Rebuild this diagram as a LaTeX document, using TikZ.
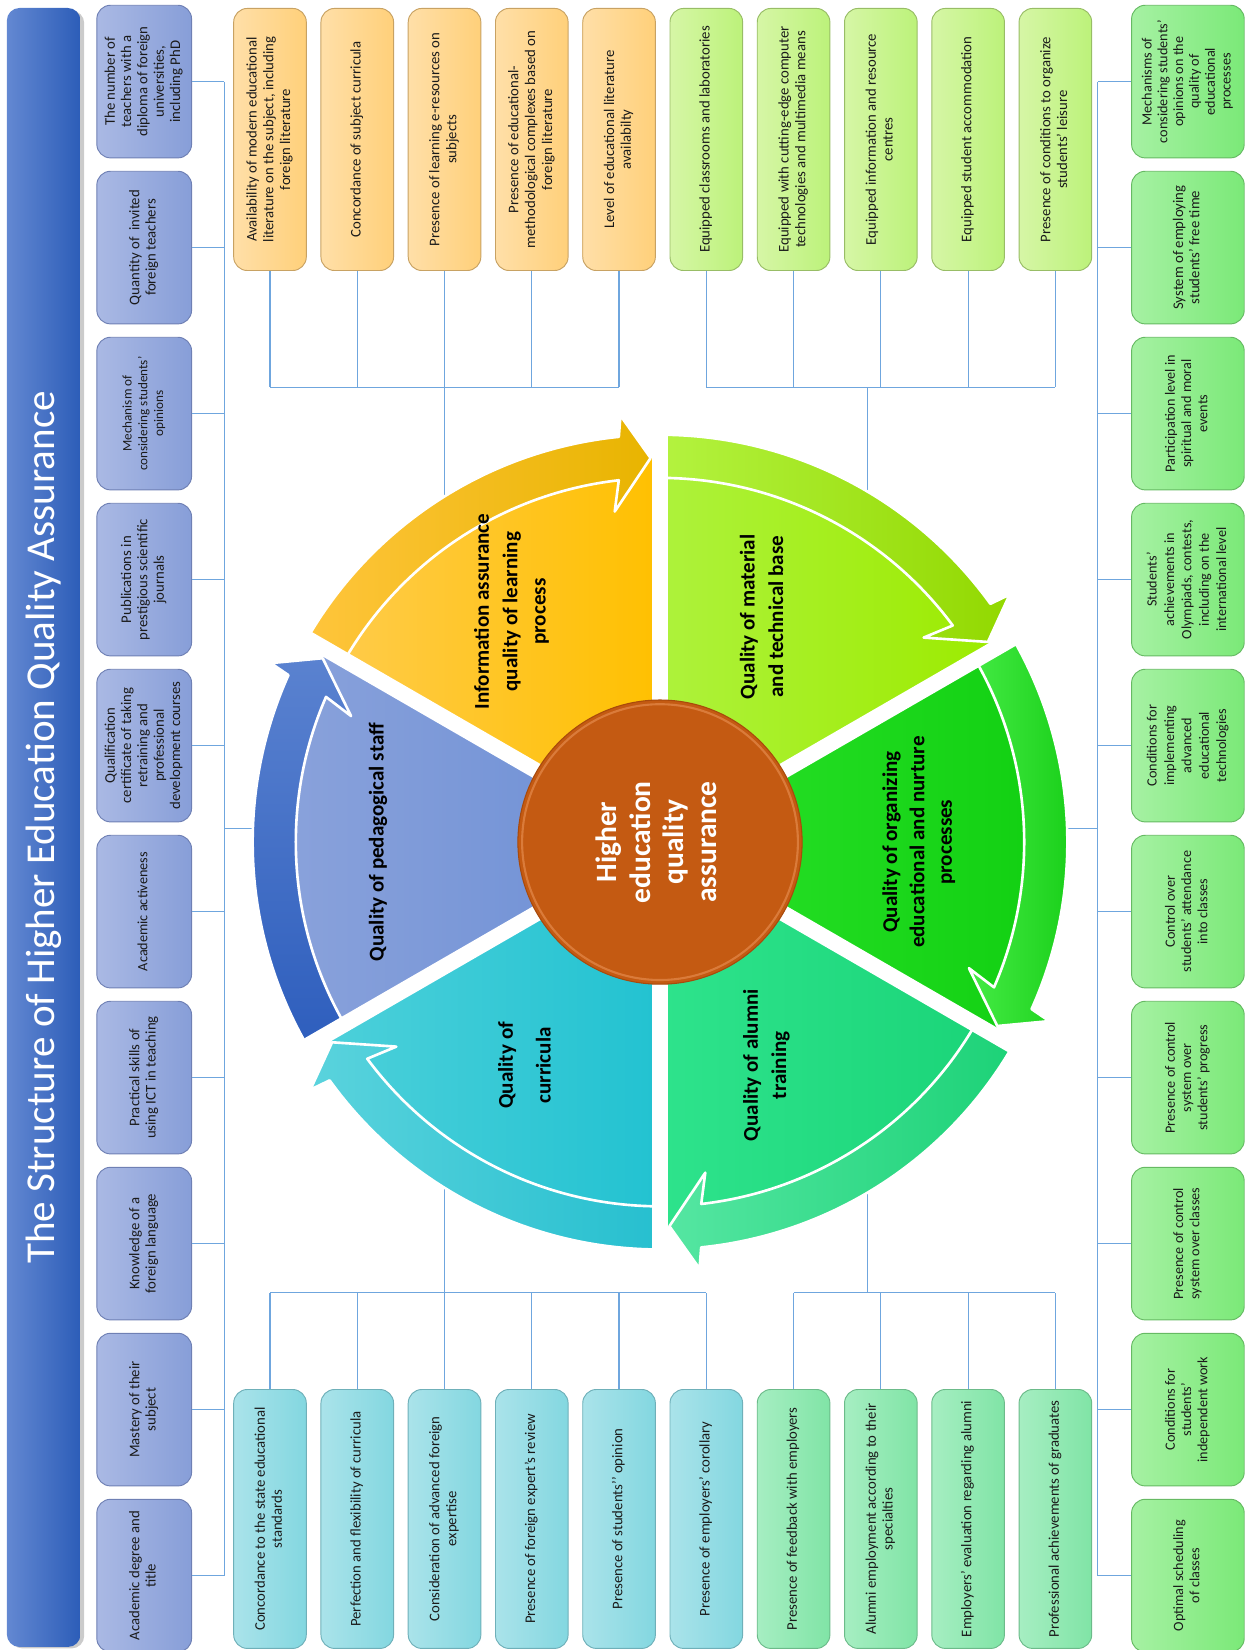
\documentclass[tikz,border=0pt]{standalone}
\usepackage{fontspec}
\setmainfont{Carlito}
\usetikzlibrary{calc}

\definecolor{wirec}{HTML}{6FA6DE}
\definecolor{txt}{HTML}{1A1A1A}
\definecolor{ttL}{HTML}{6388D2}
\definecolor{ttR}{HTML}{2C5DB8}
\definecolor{blL}{HTML}{AAB9E4}
\definecolor{blR}{HTML}{879ED8}
\definecolor{blD}{HTML}{6F80B4}
\definecolor{orL}{HTML}{FFDFA8}
\definecolor{orR}{HTML}{FFD07A}
\definecolor{orD}{HTML}{C8A263}
\definecolor{liL}{HTML}{D6F6A6}
\definecolor{liR}{HTML}{BCF27A}
\definecolor{liD}{HTML}{98BD66}
\definecolor{cyL}{HTML}{AAE3EA}
\definecolor{cyR}{HTML}{83D7E0}
\definecolor{cyD}{HTML}{6FB0B9}
\definecolor{mnL}{HTML}{A6EEC2}
\definecolor{mnR}{HTML}{80E4A6}
\definecolor{mnD}{HTML}{6CBB8A}
\definecolor{grL}{HTML}{A6F1A3}
\definecolor{grR}{HTML}{7BE978}
\definecolor{grD}{HTML}{66BA63}
\definecolor{hub}{HTML}{C45A12}
\definecolor{hubD}{HTML}{A84A0C}
\definecolor{hubL}{HTML}{E48A4C}
% wheel colours
\definecolor{yS1}{HTML}{FFCB48}\definecolor{yS2}{HTML}{FFC000}\definecolor{yA1}{HTML}{FFC53C}\definecolor{yA2}{HTML}{E8B400}
\definecolor{lS1}{HTML}{AEF23C}\definecolor{lS2}{HTML}{9CEB00}\definecolor{lA1}{HTML}{B4F340}\definecolor{lA2}{HTML}{92D800}
\definecolor{gS1}{HTML}{2AE22A}\definecolor{gS2}{HTML}{12D012}\definecolor{gA1}{HTML}{45EB45}\definecolor{gA2}{HTML}{14CC14}
\definecolor{aS1}{HTML}{2EE38C}\definecolor{aS2}{HTML}{1BD579}\definecolor{aA1}{HTML}{55E6A2}\definecolor{aA2}{HTML}{1CD277}
\definecolor{cS1}{HTML}{4CD0DA}\definecolor{cS2}{HTML}{22C2D1}\definecolor{cA1}{HTML}{5AD3DD}\definecolor{cA2}{HTML}{26BFCF}
\definecolor{bS1}{HTML}{8AA2DB}\definecolor{bS2}{HTML}{6B8ED5}\definecolor{bA1}{HTML}{5A82D0}\definecolor{bA2}{HTML}{2E5EBD}

\newcommand\rt[4][]{\rotatebox{90}{\fontsize{#2}{#3}\selectfont#1\begin{tabular}{@{}c@{}}#4\end{tabular}}}

\newcommand\wheelsector[3]{%
  \pgfmathsetmacro\sA{#1-60}%
  \pgfmathsetmacro\sB{#1-6.5}%
  \pgfmathsetmacro\sC{#1-1.4}%
  \pgfmathsetmacro\sD{#1-5.8}%
  \pgfmathsetmacro\sE{#1-5.3}%
  \pgfmathsetmacro\sF{#1-7.8}%
  \shade[#2] (0,0) -- (\sA:346) arc[start angle=\sA, end angle=\sB, radius=346] -- (\sC:365) -- (#1:365) -- cycle;
  \shadedraw[#3, draw=white, line width=2.5pt, line join=round] (\sA:387) arc[start angle=\sA, end angle=\sD, radius=387] -- (\sE:407) -- (\sC:365) -- (\sF:317) -- (\sB:346) arc[start angle=\sB, end angle=\sA, radius=346] -- cycle;
}

\begin{document}
\begin{tikzpicture}[x=1pt,y=-1pt,
  box/.style={rounded corners=13pt, inner sep=0pt, line width=0.9pt, text=txt},
  lbox/.style={box, draw=blD, left color=blL, right color=blR, minimum width=90pt, minimum height=145pt},
  rbox/.style={box, draw=grD, left color=grL, right color=grR, minimum width=107pt, minimum height=145pt},
  obox/.style={box, draw=orD, left color=orL, right color=orR, minimum width=69pt, minimum height=249pt},
  libox/.style={box, draw=liD, left color=liL, right color=liR, minimum width=69pt, minimum height=249pt},
  cbox/.style={box, draw=cyD, left color=cyL, right color=cyR, minimum width=69pt, minimum height=246pt},
  mbox/.style={box, draw=mnD, left color=mnL, right color=mnR, minimum width=69pt, minimum height=246pt},
  wire/.style={draw=wirec, line width=1.1pt},
  seclab/.style={inner sep=0pt, text=black},
]
\useasboundingbox (0,0) rectangle (1188.45,1567.5);

% ---------- title bar ----------
\fill[black!45, opacity=0.45, rounded corners=12pt] (9.5,10) rectangle (80,1566);
\node[rounded corners=12pt, minimum width=70pt, minimum height=1557pt, inner sep=0pt,
      left color=ttL, right color=ttR, text=white] (title) at (41.5,786.1)
  {\rotatebox{90}{\fontsize{39}{45}\selectfont The Structure of Higher Education Quality Assurance}};

% ---------- coordinates for connectors ----------
\coordinate (lc) at (213,787);
\coordinate (rc) at (1043,787);
\coordinate (ot) at (422.3,368);
\coordinate (gt) at (824,368);
\coordinate (cb) at (422.3,1228);
\coordinate (mb) at (824,1228);
\coordinate (wl) at (240.2,787);
\coordinate (wr) at (1013.8,787);
\coordinate (wt1) at (422.3,471.8);
\coordinate (wt2) at (824,466.9);
\coordinate (wb1) at (422.3,1128.2);
\coordinate (wb2) at (824,1133.1);

% ---------- left column ----------
\node[lbox] (L1) at (137,77.5) {\rt{14}{15.5}{The number of\\teachers with a\\diploma of foreign\\universities,\\including PhD}};
\node[lbox] (L2) at (137,235.2) {\rt{14}{15.5}{Quantity of~ invited\\foreign teachers}};
\node[lbox] (L3) at (137,392.9) {\rt{12.5}{15}{Mechanism of\\considering students’\\opinions}};
\node[lbox] (L4) at (137,550.6) {\rt{14}{15.5}{Publications in\\prestigious scientific\\journals}};
\node[lbox] (L5) at (137,708.3) {\rt{14}{15.5}{Qualification\\certificate of taking\\retraining and\\professional\\development courses}};
\node[lbox] (L6) at (137,866.0) {\rt{13.5}{15.5}{Academic activeness}};
\node[lbox] (L7) at (137,1023.7) {\rt{14}{15.5}{Practical skills of\\using ICT in teaching}};
\node[lbox] (L8) at (137,1181.4) {\rt{14}{15.5}{Knowledge of a\\foreign language}};
\node[lbox] (L9) at (137,1339.1) {\rt{14}{15.5}{Mastery of their\\subject}};
\node[lbox] (L10) at (137,1496.8) {\rt{14}{15.5}{Academic degree and\\title}};

% ---------- right column ----------
\node[rbox] (R1) at (1128.5,77.5) {\rt{13.5}{15}{Mechanisms of\\considering students’\\opinions on the\\quality of\\educational\\processes}};
\node[rbox] (R2) at (1128.5,235.2) {\rt{14}{15.5}{System of employing\\students’ free time}};
\node[rbox] (R3) at (1128.5,392.9) {\rt{13.5}{15.5}{Participation level in\\spiritual and moral\\events}};
\node[rbox] (R4) at (1128.5,550.6) {\rt{13.5}{16.5}{Students’\\achievements in\\Olympiads, contests,\\including on the\\international level}};
\node[rbox] (R5) at (1128.5,708.3) {\rt{13.5}{16.5}{Conditions for\\implementing\\advanced\\educational\\technologies}};
\node[rbox] (R6) at (1128.5,866.0) {\rt{13.5}{15.5}{Control over\\students’ attendance\\into classes}};
\node[rbox] (R7) at (1128.5,1023.7) {\rt{13.5}{15.5}{Presence of control\\system over\\students’ progress}};
\node[rbox] (R8) at (1128.5,1181.4) {\rt{13.5}{15.5}{Presence of control\\system over classes}};
\node[rbox] (R9) at (1128.5,1339.1) {\rt{13.5}{15.5}{Conditions for\\students’\\independent work}};
\node[rbox] (R10) at (1128.5,1496.8) {\rt{13.5}{15.5}{Optimal scheduling\\of classes}};

% ---------- top row ----------
\node[obox] (T0) at (256.5,132.5) {\rt{14}{16}{Availability of modern educational\\literature on the subject, including\\foreign literature}};
\node[obox] (T1) at (339.4,132.5) {\rt{14}{16}{Concordance of subject curricula}};
\node[obox] (T2) at (422.3,132.5) {\rt{14}{16}{Presence of learning e-resources on\\subjects}};
\node[obox] (T3) at (505.2,132.5) {\rt{14}{16}{Presence of educational-\\methodological complexes based on\\foreign literature}};
\node[obox] (T4) at (588.1,132.5) {\rt{14}{16}{Level of educational literature\\availabilty}};
\node[libox] (T5) at (671.0,132.5) {\rt{14}{16}{Equipped classrooms and laboratories}};
\node[libox] (T6) at (753.9,132.5) {\rt{14}{16}{Equipped with cutting-edge computer\\technologies and multimedia means}};
\node[libox] (T7) at (836.8,132.5) {\rt{14}{16}{Equipped information and resource\\centres}};
\node[libox] (T8) at (919.7,132.5) {\rt{14}{16}{Equipped student accommodation}};
\node[libox] (T9) at (1002.6,132.5) {\rt{14}{16}{Presence of conditions to organize\\students’ leisure}};

% ---------- bottom row ----------
\node[cbox] (B0) at (256.5,1443) {\rt{14}{16}{Concordance to the state educational\\standards}};
\node[cbox] (B1) at (339.4,1443) {\rt{14}{16}{Perfection and flexibility of curricula}};
\node[cbox] (B2) at (422.3,1443) {\rt{14}{16}{Consideration of advanced foreign\\expertise}};
\node[cbox] (B3) at (505.2,1443) {\rt{14}{16}{Presence of foreign expert’s review}};
\node[cbox] (B4) at (588.1,1443) {\rt{14}{16}{Presence of students’’ opinion}};
\node[cbox] (B5) at (671.0,1443) {\rt{14}{16}{Presence of employers’ corollary}};
\node[mbox] (B6) at (753.9,1443) {\rt{14}{16}{Presence of feedback with employers}};
\node[mbox] (B7) at (836.8,1443) {\rt{14}{16}{Alumni employment according to their\\specialties}};
\node[mbox] (B8) at (919.7,1443) {\rt{14}{16}{Employers’ evaluation regarding alumni}};
\node[mbox] (B9) at (1002.6,1443) {\rt{14}{16}{Professional achievements of graduates}};

% ---------- connectors ----------
\draw[wire] (L1.east -| lc) -- (L10.east -| lc);
\foreach \n in {L1,L2,L3,L4,L5,L6,L7,L8,L9,L10} \draw[wire] (\n.east) -- (\n.east -| lc);
\draw[wire] (lc) -- (wl);
\draw[wire] (R1.west -| rc) -- (R10.west -| rc);
\foreach \n in {R1,R2,R3,R4,R5,R6,R7,R8,R9,R10} \draw[wire] (\n.west) -- (\n.west -| rc);
\draw[wire] (rc) -- (wr);
\draw[wire] (T0.south |- ot) -- (T4.south |- ot);
\foreach \n in {T0,T1,T2,T3,T4} \draw[wire] (\n.south) -- (\n.south |- ot);
\draw[wire] (ot) -- (wt1);
\draw[wire] (T5.south |- gt) -- (T9.south |- gt);
\foreach \n in {T5,T6,T7,T8,T9} \draw[wire] (\n.south) -- (\n.south |- gt);
\draw[wire] (gt) -- (wt2);
\draw[wire] (B0.north |- cb) -- (B5.north |- cb);
\foreach \n in {B0,B1,B2,B3,B4,B5} \draw[wire] (\n.north) -- (\n.north |- cb);
\draw[wire] (cb) -- (wb1);
\draw[wire] (B6.north |- mb) -- (B9.north |- mb);
\foreach \n in {B6,B7,B8,B9} \draw[wire] (\n.north) -- (\n.north |- mb);
\draw[wire] (mb) -- (wb2);

% ---------- wheel ----------
\begin{scope}[shift={(627,800)}]
  \wheelsector{-90}{left color=yS1, right color=yS2}{left color=yA1, right color=yA2}
  \wheelsector{-30}{left color=lS1, right color=lS2}{left color=lA1, right color=lA2}
  \wheelsector{30}{left color=gS1, right color=gS2}{left color=gA1, right color=gA2}
  \wheelsector{90}{left color=aS1, right color=aS2}{left color=aA1, right color=aA2}
  \wheelsector{150}{left color=cS1, right color=cS2}{left color=cA1, right color=cA2}
  \wheelsector{-150}{left color=bS1, right color=bS2}{top color=bA1, bottom color=bA2}
  \foreach \g in {30,90,150,210,270,330} \draw[white, line width=15pt] (0,0) -- (\g:412);
\end{scope}

% ---------- hub ----------
\node[circle, fill=hub, draw=hubD, line width=1pt, minimum size=270pt, inner sep=0pt, text=white] (hub) at (627,800)
  {\rt[\bfseries]{28}{31.5}{Higher\\education\\quality\\assurance}};
\draw[hubL, line width=2pt, opacity=0.7] (hub.center) circle[radius=131];

% ---------- sector labels ----------
\node[seclab] (s1) at (486,581) {\rt[\bfseries]{20}{27}{Information assurance\\quality of learning\\process}};
\node[seclab] (s2) at (725,586) {\rt[\bfseries]{20}{27}{Quality of material\\and technical base}};
\node[seclab] (s3) at (873,800) {\rt[\bfseries]{20}{26}{Quality of organizing\\educational and nurture\\processes}};
\node[seclab] (s4) at (728,1012) {\rt[\bfseries]{20}{27}{Quality of alumni\\training}};
\node[seclab] (s5) at (498,1012) {\rt[\bfseries]{20}{36}{Quality of\\curricula}};
\node[seclab] (s6) at (359,800) {\rt[\bfseries]{20}{27}{Quality of pedagogical staff}};
\end{tikzpicture}
\end{document}
